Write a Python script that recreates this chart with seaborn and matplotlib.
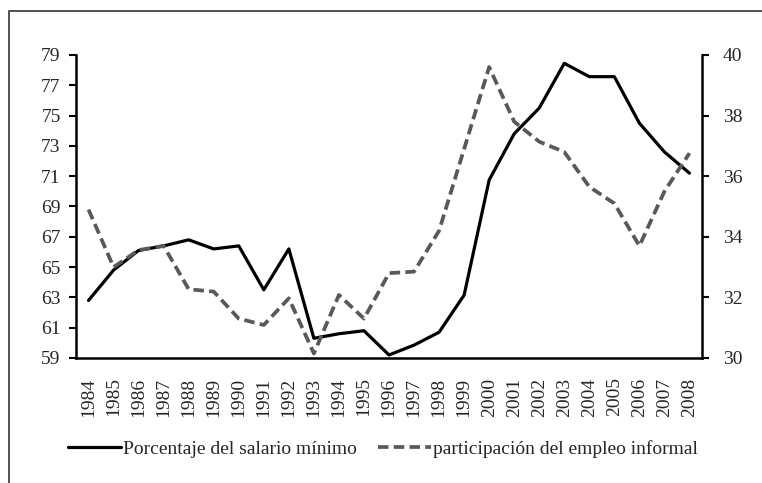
import numpy as np
import pandas as pd
import seaborn as sns
import matplotlib.pyplot as plt
from matplotlib.lines import Line2D
from matplotlib.patches import Rectangle
from matplotlib.ticker import FixedLocator

years = [str(y) for y in range(1984, 2009)]
salario = [62.8, 64.8, 66.1, 66.4, 66.8, 66.2, 66.4, 63.5, 66.2, 60.3, 60.6, 60.8,
           59.2, 59.85, 60.7, 63.15, 70.75, 73.8, 75.5, 78.45, 77.57, 77.57, 74.5, 72.6, 71.2]
informal = [34.9, 33.0, 33.56, 33.7, 32.27, 32.19, 31.3, 31.09, 31.97, 30.15, 32.08, 31.3,
            32.8, 32.85, 34.2, 36.9, 39.6, 37.8, 37.14, 36.8, 35.65, 35.1, 33.7, 35.5, 36.76]

lbl_sal = "Porcentaje del salario mínimo"
lbl_inf = "participación del empleo informal"

df = pd.DataFrame({"year": years, "salario": salario, "informal": informal})

sns.set_style("white")
plt.rcParams["font.family"] = ["Liberation Serif", "DejaVu Serif"]
plt.rcParams["font.size"] = 14

dash = (0, (2.8, 1.4))

fig = plt.figure(figsize=(7.62, 4.83), dpi=100)
ax = fig.add_axes([76 / 762, 1 - 358 / 483, 626 / 762, 303 / 483])
ax2 = ax.twinx()

sns.lineplot(data=df, x="year", y="salario", ax=ax, color="black", linewidth=2.3)
sns.lineplot(data=df, x="year", y="informal", ax=ax2, color="#595959", linewidth=2.7,
             linestyle=dash)

n = len(years)
ax.set_xlim(-0.5, n - 0.5)
ax.set_ylim(59, 79)
ax2.set_ylim(30, 40)
ax.set_yticks(np.arange(59, 80, 2))
ax2.set_yticks(np.arange(30, 41, 2))
ax.set_xticks(range(n))
ax.set_xticklabels(years, rotation=90)
ax.xaxis.set_minor_locator(FixedLocator(np.arange(-0.5, n, 1)))
ax.tick_params(axis="x", which="major", length=0, pad=14, labelsize=14)
ax.tick_params(axis="x", which="minor", length=6, width=1.5, direction="out", color="black")
ax.tick_params(axis="y", length=5, width=1.5, direction="out", color="black", left=True, labelsize=14, pad=6)
ax2.tick_params(axis="y", length=5, width=1.5, direction="out", color="black", right=True, labelsize=14, pad=10)
ax.set_xlabel("")
ax.set_ylabel("")
ax2.set_ylabel("")

for a in (ax, ax2):
    a.spines["top"].set_visible(False)
    for s in ("left", "right", "bottom"):
        a.spines[s].set_linewidth(1.8)
        a.spines[s].set_color("black")
ax.spines["right"].set_visible(False)
ax2.spines["left"].set_visible(False)
ax2.spines["bottom"].set_visible(False)

handles = [Line2D([], [], color="black", linewidth=2.3),
           Line2D([], [], color="#595959", linewidth=2.7, linestyle=dash)]
fig.legend(handles, [lbl_sal, lbl_inf], loc="center", bbox_to_anchor=(383 / 762, 1 - 449 / 483),
           ncol=2, frameon=False, handlelength=2.7, handletextpad=0.1, columnspacing=1.1,
           fontsize=14)

fig.patches.append(Rectangle((9 / 762, -0.02), 1.05, 1 - 11 / 483 + 0.02, transform=fig.transFigure,
                             fill=False, edgecolor="#333333", linewidth=1.2))

fig.savefig("out.png", dpi=100)
